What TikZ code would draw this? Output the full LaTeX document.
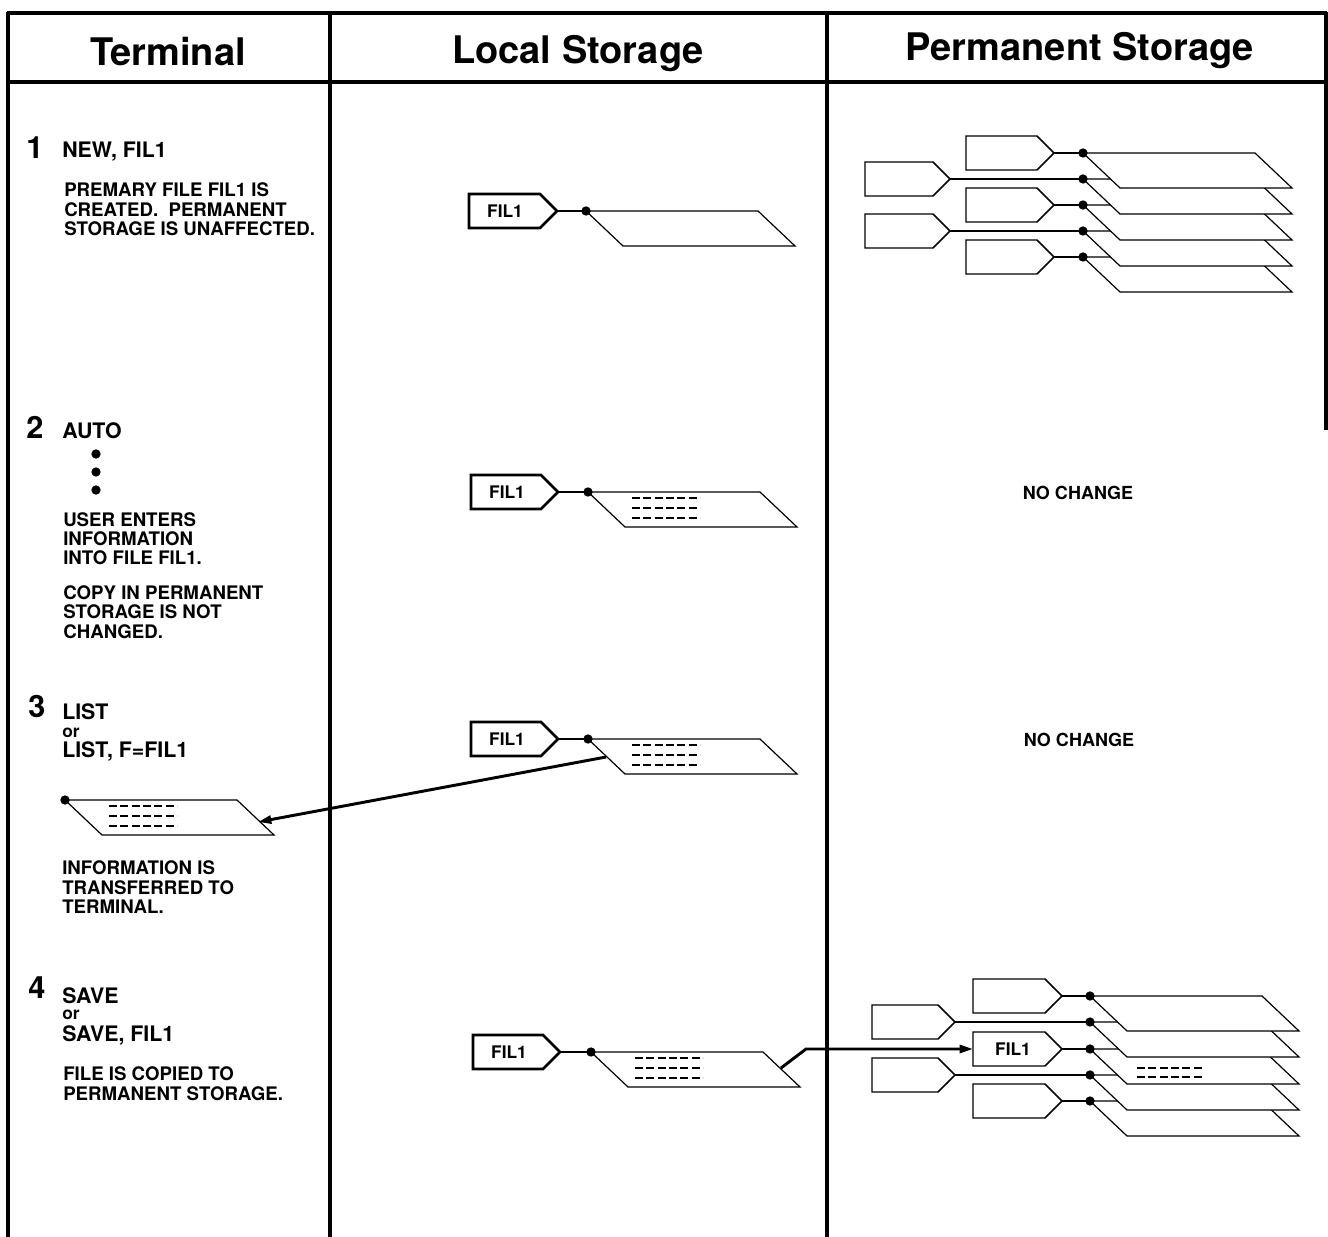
\documentclass[tikz,border=0pt]{standalone}
\usepackage{fontspec}
\setmainfont{TeX Gyre Heros}
\usetikzlibrary{arrows.meta}
\newcommand\ftag[4]{\draw[#1] ({#2},{#3-17}) -- ({#2+#4},{#3-17}) -- ({#2+#4+17},{#3}) -- ({#2+#4},{#3+17}) -- ({#2},{#3+17}) -- cycle;}
\newcommand\frec[2]{\draw[rec] ({#1},{#2}) -- ({#1+172},{#2}) -- ({#1+209},{#2+35}) -- ({#1+37},{#2+35}) -- cycle;}
\newcommand\fdash[2]{\foreach \k in {6,16,26} {\draw[dsh] ({#1+44},{#2+\k}) -- ++(68,0);}}
\newcommand\fdot[2]{\fill ({#1},{#2}) circle[radius=3.5pt];}
\begin{document}
\begin{tikzpicture}[x=0.75pt,y=-0.75pt,
  frame/.style={line width=2.6pt},
  rec/.style={draw=black,fill=white,line width=0.9pt,line join=miter},
  ltag/.style={draw=black,fill=white,line width=1.9pt},
  ptag/.style={draw=black,fill=white,line width=1.1pt},
  link/.style={line width=0.9pt},
  dsh/.style={line width=1.8pt,dash pattern=on 6pt off 2.5pt},
  arr/.style={line width=2.2pt,-{Triangle[length=10pt,width=6pt]}},
  hdr/.style={font=\fontsize{28.5}{31}\selectfont\bfseries,inner sep=0,anchor=base},
  num/.style={font=\fontsize{23}{25}\selectfont\bfseries,inner sep=0,anchor=base west},
  cmd/.style={font=\fontsize{16}{18}\selectfont\bfseries,inner sep=0,anchor=base west},
  orw/.style={font=\fontsize{13}{14}\selectfont\bfseries,inner sep=0,anchor=base west},
  desc/.style={font=\fontsize{14}{15}\selectfont\bfseries,inner sep=0,anchor=base west},
  tagtxt/.style={font=\fontsize{13}{14}\selectfont\bfseries,inner sep=0},
  nc/.style={font=\fontsize{13.5}{15}\selectfont\bfseries,inner sep=0}]
\useasboundingbox (0,0) rectangle (1328,1237);
% ---------- frame ----------
\draw[frame] (7,13) -- (1327,13);
\draw[frame] (7,82) -- (1327,82);
\draw[frame] (8,12) -- (8,1237);
\draw[frame] (330,12) -- (330,1237);
\draw[frame] (827,12) -- (827,1237);
\draw[frame] (1326,12) -- (1326,430);
\node[hdr] (h1) at (168,66) {Terminal};
\node[hdr] (h2) at (578,64) {Local Storage};
\node[hdr] (h3) at (1080,61) {Permanent Storage};
% ---------- terminal column ----------
\node[num] (n1) at (26,159) {1};
\node[cmd] (c1) at (62,158) {NEW, FIL1};
\node[desc] (d1a) at (64,197) {PREMARY FILE FIL1 IS};
\node[desc] (d1b) at (64,217) {CREATED.\ \ PERMANENT};
\node[desc] (d1c) at (64,236) {STORAGE IS UNAFFECTED.};
\node[num] (n2) at (26,439) {2};
\node[cmd] (c2) at (62,439) {AUTO};
\fdot{96}{454}\fdot{96}{472}\fdot{96}{490}
\node[desc] (d2a) at (63,526) {USER ENTERS};
\node[desc] (d2b) at (63,545) {INFORMATION};
\node[desc] (d2c) at (63,564) {INTO FILE FIL1.};
\node[desc] (d2d) at (63,599) {COPY IN PERMANENT};
\node[desc] (d2e) at (63,618) {STORAGE IS NOT};
\node[desc] (d2f) at (63,638) {CHANGED.};
\node[num] (n3) at (28,717) {3};
\node[cmd] (c3) at (62,719) {LIST};
\node[orw] (o3) at (62,737) {or};
\node[cmd] (c3b) at (62,757) {LIST, F=FIL1};
\frec{65}{800}\fdash{65}{800}\fdot{65}{800}
\coordinate (termin) at (258,822);
\node[desc] (d3a) at (62,874) {INFORMATION IS};
\node[desc] (d3b) at (62,894) {TRANSFERRED TO};
\node[desc] (d3c) at (62,913) {TERMINAL.};
\node[num] (n4) at (28,998) {4};
\node[cmd] (c4) at (62,1003) {SAVE};
\node[orw] (o4) at (62,1019) {or};
\node[cmd] (c4b) at (62,1041) {SAVE, FIL1};
\node[desc] (d4a) at (63,1080) {FILE IS COPIED TO};
\node[desc] (d4b) at (63,1100) {PERMANENT STORAGE.};
% ---------- local storage ----------
% step 1
\draw[link] (557,211) -- (586,211);
\frec{586}{211}
\ftag{ltag}{469}{211}{71}
\node[tagtxt] (lt1) at (505,211) {FIL1};
\fdot{586}{211}
% step 2
\draw[link] (558,492) -- (588,492);
\frec{588}{492}\fdash{588}{492}
\ftag{ltag}{471}{492}{70}
\node[tagtxt] (lt2) at (507,492) {FIL1};
\fdot{588}{492}
% step 3
\draw[link] (558,739) -- (588,739);
\frec{588}{739}\fdash{588}{739}
\ftag{ltag}{471}{739}{70}
\node[tagtxt] (lt3) at (507,739) {FIL1};
\fdot{588}{739}
\coordinate (locout3) at (606,757);
% step 4
\draw[link] (560,1052) -- (591,1052);
\frec{591}{1052}\fdash{591}{1052}
\ftag{ltag}{473}{1052}{70}
\node[tagtxt] (lt4) at (509,1052) {FIL1};
\fdot{591}{1052}
\coordinate (locout4) at (781,1068);
\coordinate (bend4) at (806,1049);
% ---------- permanent storage ----------
\node[nc] (nc2) at (1078,493) {NO CHANGE};
\node[nc] (nc3) at (1079,740) {NO CHANGE};
% step 1 stack
\frec{1083}{257}\frec{1083}{231}\frec{1083}{205}\frec{1083}{179}\frec{1083}{153}
\draw[link] (1054,153) -- (1083,153);
\draw[link] (950,179) -- (1083,179);
\draw[link] (1054,205) -- (1083,205);
\draw[link] (950,231) -- (1083,231);
\draw[link] (1054,257) -- (1083,257);
\ftag{ptag}{966}{153}{71}\ftag{ptag}{865}{179}{68}\ftag{ptag}{966}{205}{71}
\ftag{ptag}{865}{231}{68}\ftag{ptag}{966}{257}{71}
\fdot{1083}{153}\fdot{1083}{179}\fdot{1083}{205}\fdot{1083}{231}\fdot{1083}{257}
% step 4 stack
\frec{1090}{1101}\frec{1090}{1075}\frec{1090}{1049}
\foreach \k in {19,28} {\draw[dsh] (1137,{1049+\k}) -- ++(66,0);}
\frec{1090}{1022}\frec{1090}{996}
\draw[link] (1062,996) -- (1090,996);
\draw[link] (955,1022) -- (1090,1022);
\draw[link] (1062,1049) -- (1090,1049);
\draw[link] (955,1075) -- (1090,1075);
\draw[link] (1062,1101) -- (1090,1101);
\ftag{ptag}{973}{996}{72}\ftag{ptag}{872}{1022}{66}\ftag{ptag}{973}{1049}{72}
\ftag{ptag}{872}{1075}{66}\ftag{ptag}{973}{1101}{72}
\node[tagtxt] (pt4) at (1013,1049) {FIL1};
\coordinate (permin) at (973,1049);
\fdot{1090}{996}\fdot{1090}{1022}\fdot{1090}{1049}\fdot{1090}{1075}\fdot{1090}{1101}
% ---------- transfers ----------
\draw[arr] (locout3) -- (termin);
\draw[arr] (locout4) -- (bend4) -- (permin);
\end{tikzpicture}
\end{document}
